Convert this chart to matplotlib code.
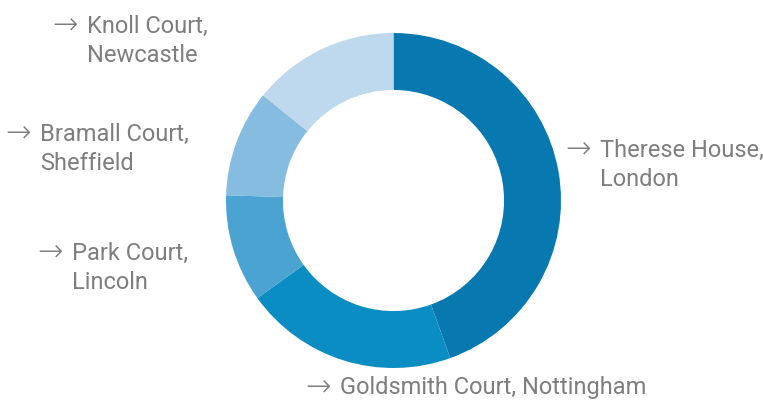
import matplotlib
matplotlib.use("Agg")
import matplotlib.pyplot as plt

labels_line1 = ["Therese House,", "Goldsmith Court, Nottingham", "Park Court,", "Bramall Court,", "Knoll Court,"]
labels_line2 = ["London", "", "Lincoln", "Sheffield", "Newcastle"]
shares = [44.5, 20.6, 10.4, 10.3, 14.2]
colors = ["#0878B0", "#0A8DC2", "#4AA3D1", "#85BCDF", "#BED9EE"]

# label anchor (left of arrow) in pixel coords (x, y from top)
label_pos = [(567, 150), (307, 388), (39, 253), (7, 134), (54, 26)]

W, H = 763, 402
fig = plt.figure(figsize=(W / 100, H / 100), dpi=100)
fig.patch.set_facecolor("white")

cx, cy, R = 393.5, 201.5, 167.5
ax = fig.add_axes([(cx - R) / W, (H - cy - R) / H, 2 * R / W, 2 * R / H])
ax.pie(shares, colors=colors, startangle=90, counterclock=False,
       radius=1.0, wedgeprops=dict(width=0.34, edgecolor="none", linewidth=0))
ax.set_xlim(-1, 1)
ax.set_ylim(-1, 1)
ax.set_aspect("equal")
ax.axis("off")

grey = "#7E7E7E"
fs = 17
for (x, y), l1, l2 in zip(label_pos, labels_line1, labels_line2):
    fig.text((x - 2) / W, 1 - (y - 1) / H, "→", color=grey, fontsize=22,
             family="DejaVu Sans", ha="left", va="center", fontweight="light")
    fig.text((x + 33) / W, 1 - y / H, l1, color=grey, fontsize=fs, family="Roboto",
             ha="left", va="center")
    if l2:
        fig.text((x + 33) / W, 1 - (y + 30) / H, l2, color=grey, fontsize=fs,
                 family="Roboto", ha="left", va="center")

fig.savefig("out.png", dpi=100, facecolor="white")
